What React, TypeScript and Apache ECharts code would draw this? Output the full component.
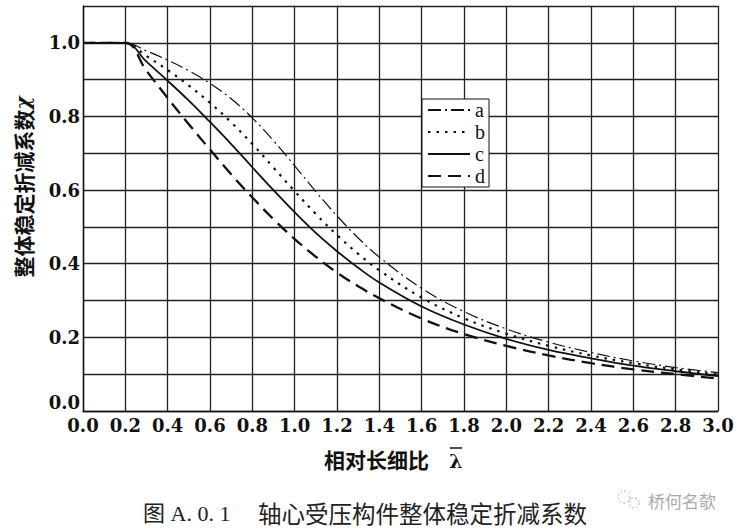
import React, { useEffect, useRef } from "react";
import * as echarts from "echarts";

// relative slenderness λ̄ (x) and reduction factor χ (y)
const lambdaValues = [0, 0.1, 0.2, 0.3, 0.4, 0.5, 0.6, 0.7, 0.8, 0.9, 1.0, 1.1, 1.2, 1.3, 1.4, 1.6, 1.8, 2.0, 2.2, 2.4, 2.6, 2.8, 3.0];
const curveA = [1.0, 1.0, 1.0, 0.978, 0.953, 0.924, 0.89, 0.848, 0.796, 0.734, 0.666, 0.596, 0.53, 0.47, 0.418, 0.333, 0.27, 0.223, 0.187, 0.159, 0.136, 0.118, 0.104];
const curveB = [1.0, 1.0, 1.0, 0.964, 0.926, 0.884, 0.837, 0.784, 0.725, 0.661, 0.597, 0.535, 0.478, 0.427, 0.382, 0.308, 0.252, 0.21, 0.177, 0.151, 0.13, 0.113, 0.099];
const curveC = [1.0, 1.0, 1.0, 0.949, 0.897, 0.843, 0.785, 0.725, 0.662, 0.6, 0.54, 0.484, 0.434, 0.389, 0.349, 0.284, 0.235, 0.196, 0.166, 0.143, 0.123, 0.108, 0.095];
const curveD = [1.0, 1.0, 1.0, 0.924, 0.85, 0.779, 0.71, 0.643, 0.58, 0.521, 0.467, 0.419, 0.376, 0.339, 0.306, 0.251, 0.209, 0.177, 0.151, 0.13, 0.113, 0.1, 0.088];
const seriesNames = ["a", "b", "c", "d"];

const yAxisTitle = "整体稳定折减系数";
const yAxisSymbol = "χ";
const xAxisTitle = "相对长细比";
const xAxisSymbol = "λ";
const captionNo = "图 A. 0. 1";
const captionText = "轴心受压构件整体稳定折减系数";
const watermark = "桥何名欹";

const serifBold = { fontFamily: "'DejaVu Serif'", fontWeight: "bold" as const };

export default function App() {
  const ref = useRef<HTMLDivElement>(null);
  useEffect(() => {
    if (!ref.current) return;
    const chart = echarts.init(ref.current, null, { renderer: "svg" });
    const curves = [curveA, curveB, curveC, curveD];
    const styles = [
      { width: 1.2, type: [13, 4, 2, 4] },
      { width: 2.2, type: [2.5, 6] },
      { width: 1.8, type: "solid" },
      { width: 2.3, type: [13, 7] },
    ];
    const option: any = {
      animation: false,
      backgroundColor: "#fff",
      grid: { left: 83, right: 25, top: 6, bottom: 120, containLabel: false },
      xAxis: {
        type: "value",
        min: 0,
        max: 3,
        interval: 0.2,
        axisLine: { show: true, onZero: false, lineStyle: { color: "#111", width: 1.4 } },
        axisTick: { show: false },
        splitLine: { show: true, lineStyle: { color: "#222", width: 1.3 } },
        axisLabel: {
          formatter: (v: number) => v.toFixed(1),
          margin: 5,
          color: "#111",
          fontSize: 18,
          showMinLabel: true,
          showMaxLabel: true,
          ...serifBold,
        },
      },
      yAxis: {
        type: "value",
        min: 0,
        max: 1.1,
        interval: 0.1,
        axisLine: { show: true, onZero: false, lineStyle: { color: "#111", width: 1.4 } },
        axisTick: { show: false },
        splitLine: { show: true, lineStyle: { color: "#222", width: 1.3 } },
        axisLabel: {
          formatter: (v: number) => (Math.round(v * 10) % 2 === 0 ? v.toFixed(1) : ""),
          margin: 3,
          color: "#111",
          fontSize: 18,
          showMinLabel: true,
          showMaxLabel: true,
          verticalAlignMinLabel: "bottom",
          ...serifBold,
        },
      },
      legend: {
        orient: "vertical",
        left: 422,
        top: 99,
        backgroundColor: "#fff",
        borderColor: "#111",
        borderWidth: 1,
        borderRadius: 0,
        padding: [1, 4, 1, 5],
        itemWidth: 42,
        itemHeight: 14,
        itemGap: 2,
        itemTextGap: 2,
        itemStyle: { color: "rgba(0,0,0,0)", borderWidth: 0, opacity: 0 },
        textStyle: { fontFamily: "'Liberation Serif'", fontSize: 20, color: "#111", lineHeight: 18 },
        data: seriesNames,
      },
      series: curves.map((c, i) => ({
        name: seriesNames[i],
        type: "line",
        data: lambdaValues.map((x, j) => [x, c[j]]),
        symbol: "none",
        showSymbol: false,
        smooth: 0.4,
        lineStyle: { color: "#111", width: styles[i].width, type: styles[i].type },
        itemStyle: { color: "#111" },
        z: 3,
      })),
      graphic: [
        {
          type: "text",
          x: 23,
          y: 187,
          rotation: Math.PI / 2,
          style: {
            text: "{a|" + yAxisTitle + "}{b|" + yAxisSymbol + "}",
            align: "center",
            verticalAlign: "middle",
            rich: {
              a: { fontFamily: "'Noto Sans CJK SC'", fontWeight: "bold", fontSize: 21, fill: "#111" },
              b: { fontFamily: "'DejaVu Serif'", fontStyle: "italic", fontWeight: "bold", fontSize: 20, fill: "#111" },
            },
          },
        },
        {
          type: "text",
          x: 324,
          y: 459,
          style: {
            text: xAxisTitle,
            align: "left",
            verticalAlign: "middle",
            fontFamily: "'Noto Sans CJK SC'",
            fontWeight: "bold",
            fontSize: 21,
            fill: "#111",
          },
        },
        {
          type: "text",
          x: 456,
          y: 461,
          style: {
            text: xAxisSymbol,
            align: "center",
            verticalAlign: "middle",
            fontFamily: "'DejaVu Serif'",
            fontWeight: "bold",
            fontSize: 19,
            fill: "#111",
          },
        },
        {
          type: "line",
          shape: { x1: 450, y1: 448, x2: 462, y2: 448 },
          style: { stroke: "#111", lineWidth: 1.5 },
        },
        {
          type: "text",
          x: 143,
          y: 513,
          style: {
            text: captionNo,
            align: "left",
            verticalAlign: "middle",
            fontFamily: "'Liberation Serif', 'Noto Sans CJK SC'",
            fontSize: 22,
            fill: "#222",
          },
        },
        {
          type: "text",
          x: 258,
          y: 513,
          style: {
            text: captionText,
            align: "left",
            verticalAlign: "middle",
            fontFamily: "'Noto Sans CJK SC'",
            fontSize: 23.5,
            fill: "#222",
          },
        },
        {
          type: "circle",
          shape: { cx: 624, cy: 497, r: 6 },
          style: { fill: "none", stroke: "#aaa", lineWidth: 1, lineDash: [2, 2] },
        },
        {
          type: "circle",
          shape: { cx: 634, cy: 503, r: 5 },
          style: { fill: "none", stroke: "#aaa", lineWidth: 1, lineDash: [2, 2] },
        },
        {
          type: "text",
          x: 648,
          y: 500,
          style: {
            text: watermark,
            align: "left",
            verticalAlign: "middle",
            fontFamily: "'Noto Sans CJK SC'",
            fontSize: 17,
            fill: "#aaa",
          },
        },
      ],
    };
    chart.setOption(option);
    return () => chart.dispose();
  }, []);
  return <div ref={ref} style={{ position: "fixed", left: 0, top: 0, width: 743, height: 531 }} />;
}
